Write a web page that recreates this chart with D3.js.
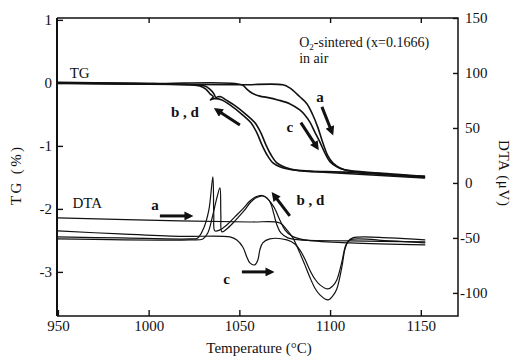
<!DOCTYPE html>
<html><head><meta charset="utf-8">
<script src="https://cdn.jsdelivr.net/npm/d3@7"></script>
<style>
body{margin:0;background:#fff;}
svg{display:block;}
svg text{font-family:"Liberation Serif","Times New Roman",Times,"DejaVu Serif",serif !important;fill:#111;}
</style>
</head><body>
<svg id="chart" width="515" height="357"></svg>
<script>
// ---------- data ----------
const xTicks = [950, 1000, 1050, 1100, 1150];
const tgTicks = [1, 0, -1, -2, -3];
const dtaTicks = [150, 100, 50, 0, -50, -100];

// TG curves: [temperature °C, TG %]
const tgA = [[950,0.00],[1000,-0.02],[1050,-0.03],[1074,-0.03],[1077.8,-0.08],[1083.3,-0.22],[1087.2,-0.33],[1090.5,-0.51],[1093.3,-0.71],[1096,-0.95],[1098.8,-1.16],[1101.5,-1.27],[1105.4,-1.35],[1110.9,-1.40],[1127.4,-1.44],[1152,-1.49]];
const tgC = [[950,0.01],[1000,-0.01],[1051.4,-0.03],[1054.1,-0.10],[1056.9,-0.16],[1061.3,-0.21],[1065.2,-0.23],[1071.2,-0.27],[1077.7,-0.33],[1083.3,-0.43],[1086.1,-0.51],[1088.8,-0.62],[1091.6,-0.78],[1094.4,-0.94],[1097.1,-1.11],[1099.9,-1.25],[1103.7,-1.33],[1108.1,-1.38],[1127,-1.43],[1152,-1.48]];
const tgB = [[1152,-1.50],[1110.9,-1.42],[1088.8,-1.40],[1079.5,-1.38],[1072.3,-1.33],[1068.5,-1.27],[1065.2,-1.14],[1062.4,-0.98],[1059.6,-0.79],[1056.3,-0.63],[1051.9,-0.51],[1044.8,-0.35],[1040.4,-0.27],[1036,-0.25],[1034,-0.27],[1035.6,-0.22],[1033.7,-0.17],[1031.5,-0.10],[1028.2,-0.05],[1022.7,-0.03],[1000,-0.01],[950,0.00]];
const tgD = [[1152,-1.51],[1091.6,-1.41],[1082.2,-1.39],[1075.1,-1.34],[1070.7,-1.27],[1067.4,-1.14],[1064.6,-0.98],[1061.8,-0.79],[1058.5,-0.63],[1054.1,-0.51],[1047,-0.35],[1042.6,-0.27],[1039.8,-0.22],[1038.2,-0.22],[1037,-0.23],[1035.9,-0.17],[1033.7,-0.10],[1031,-0.05],[1025.5,-0.03],[1000,-0.02],[950,-0.01]];

// DTA curves: [temperature °C, DTA µV]
const dtaA = [[950,-31.8],[1017.2,-34.5],[1055.8,-35.5],[1072.3,-36.4],[1076.2,-42.7],[1079.5,-50],[1083.3,-63.6],[1086.1,-74.5],[1088.8,-85.5],[1091.6,-95.5],[1094.4,-101.8],[1098.8,-106.4],[1101.5,-102.7],[1103.7,-96.4],[1106.5,-76.4],[1108.1,-60.9],[1109.8,-53.6],[1112.5,-50],[1132.9,-50],[1152.2,-51.8]];
const dtaC = [[950,-43.6],[984.2,-46.4],[1017.2,-48.6],[1044.8,-49.1],[1048.6,-51.8],[1051.9,-58.2],[1054.1,-67.3],[1055.8,-72.7],[1058.5,-74.5],[1060.2,-70],[1061.3,-60.9],[1062.9,-54.5],[1066.8,-50.9],[1076.2,-51.8],[1080.6,-55.5],[1083.3,-60.9],[1086.1,-69.1],[1088.8,-79.1],[1091.6,-87.3],[1094.4,-92.7],[1098.8,-96.4],[1101.5,-93.6],[1103.7,-88.2],[1106.5,-71.8],[1108.7,-56.4],[1110.9,-51.8],[1132.9,-52.7],[1152.2,-54.5]];
const dtaB = [[1152.2,-53.6],[1110.9,-52.7],[1083.3,-51.8],[1076.7,-50],[1072.9,-45.5],[1070.7,-38.2],[1069,-28.2],[1067.4,-19.1],[1065.2,-13.6],[1062.4,-11.4],[1059.1,-12.7],[1055.8,-16.4],[1051.9,-23.6],[1047.5,-30.9],[1043.1,-38.2],[1039.3,-42.7],[1036.5,-43.6],[1035.9,-29],[1035.4,5.5],[1033.2,-24.5],[1030.4,-40.9],[1027.1,-50],[1022.7,-50.9],[984.2,-50],[950,-49.1]];
const dtaD = [[1152.2,-56.4],[1110.9,-54.5],[1086.1,-51.8],[1078.9,-48.2],[1075.1,-42.7],[1072.3,-33.6],[1069,-21.8],[1065.6,-14.5],[1062.9,-11.8],[1059.6,-13.2],[1056.3,-17.3],[1052.5,-25.5],[1048.1,-33.6],[1043.7,-40.9],[1040.4,-44.5],[1039.8,-29],[1039.3,-4.5],[1037.6,-13.6],[1035.4,-29],[1032.6,-45.5],[1029.9,-50.9],[1022.7,-51.8],[950,-50.9]];

// annotation arrows (data coords): [T1, v1, T2, v2, axis]
const arrows = [
  [1095.5,-0.38,1101,-0.78,"tg"],
  [1083.9,-0.63,1092.7,-1.02,"tg"],
  [1050.3,-0.67,1037.6,-0.43,"tg"],
  [1006.2,-30,1022.7,-30,"dta"],
  [1051.4,-80.9,1067.4,-80.9,"dta"],
  [1077.8,-30,1069,-10.9,"dta"]
];
// annotation labels: [text, T, value, axis, anchor]
const labels = [
  ["TG",956.5,0.07,"tg","start"],
  ["DTA",958,-23,"dta","start"],
  ["a",1094.4,-0.30,"tg","middle"],
  ["c",1077.8,-0.78,"tg","middle"],
  ["b , d",1012.3,-0.54,"tg","start"],
  ["a",1003.5,-24.5,"dta","middle"],
  ["c",1043,-92,"dta","middle"],
  ["b , d",1081.5,-20,"dta","start"]
];

const SERIF = '"Liberation Serif","Times New Roman",Times,"DejaVu Serif",serif';

// ---------- scales ----------
const svg = d3.select("#chart").style("font-family", SERIF);
const x = d3.scaleLinear().domain([949.5, 1170.5]).range([57, 458]);
const yL = d3.scaleLinear().domain([-3.70, 1.03]).range([316, 18]);
const yR = d3.scaleLinear().domain([-121, 150]).range([316, 18]);

const FONT = 15;

// ---------- axes ----------
const gL = svg.append("g").attr("transform","translate(57,0)")
  .call(d3.axisLeft(yL).tickValues(tgTicks).tickSizeInner(-6).tickSizeOuter(0).tickPadding(5).tickFormat(d => d < 0 ? "-" + Math.abs(d) : String(d)));
const gB = svg.append("g").attr("transform","translate(0,316)")
  .call(d3.axisBottom(x).tickValues(xTicks).tickSizeInner(-6).tickSizeOuter(0).tickPadding(4).tickFormat(d3.format("d")));
const gT = svg.append("g").attr("transform","translate(0,18)")
  .call(d3.axisTop(x).tickValues(xTicks.slice(1)).tickSizeInner(-5).tickSizeOuter(0).tickFormat(""));
const gR = svg.append("g").attr("transform","translate(458,0)")
  .call(d3.axisRight(yR).tickValues(dtaTicks).tickSizeInner(-5).tickSizeOuter(0).tickPadding(7).tickFormat(d => d < 0 ? "-" + Math.abs(d) : String(d)));
gR.selectAll(".tick text").attr("x", d => d < 0 ? 2 : 7);
[gL,gB,gT,gR].forEach(g => {
  g.attr("font-family", SERIF).attr("font-size", FONT);
  g.select(".domain").remove();
  g.selectAll(".tick line").attr("stroke","#111").attr("stroke-width",1.4);
  g.selectAll(".tick text").attr("fill","#111");
});

// frame
svg.append("path").attr("fill","none").attr("stroke","#111").attr("stroke-width",1.5)
  .attr("d", `M${x.range()[0]},${yL.range()[1]}H${x.range()[1]}V${yL.range()[0]}H${x.range()[0]}`);
svg.append("line").attr("x1",x.range()[0]).attr("x2",x.range()[0]).attr("y1",yL.range()[1]).attr("y2",yL.range()[0])
  .attr("stroke","#111").attr("stroke-width",2);

// axis titles
svg.append("text").attr("transform","translate(21,176) rotate(-90)").attr("text-anchor","middle")
  .attr("font-size",15).attr("textLength",58).attr("lengthAdjust","spacing").text("TG (%)");
svg.append("text").attr("transform","translate(499,173) rotate(90)").attr("text-anchor","middle")
  .attr("font-size",15).attr("textLength",66).attr("lengthAdjust","spacing").text("DTA (μV)");
svg.append("text").attr("x",259).attr("y",353).attr("text-anchor","middle")
  .attr("font-size",15).text("Temperature (°C)");

// ---------- curves ----------
const lineTG = d3.line().x(d => x(d[0])).y(d => yL(d[1])).curve(d3.curveCatmullRom.alpha(0.5));
const lineDTA = d3.line().x(d => x(d[0])).y(d => yR(d[1])).curve(d3.curveCatmullRom.alpha(0.5));
const gc = svg.append("g").attr("fill","none").attr("stroke","#111").attr("stroke-linejoin","round").attr("stroke-linecap","round");
[tgA, tgC, tgB, tgD].forEach(s => gc.append("path").attr("d", lineTG(s)).attr("stroke-width",1.6));
[dtaA, dtaC, dtaB, dtaD].forEach(s => gc.append("path").attr("d", lineDTA(s)).attr("stroke-width",1.2));

// ---------- annotations ----------
const defs = svg.append("defs");
defs.append("marker").attr("id","ah").attr("viewBox","0 0 10 10").attr("refX",6).attr("refY",5)
  .attr("markerWidth",11).attr("markerHeight",9).attr("markerUnits","userSpaceOnUse").attr("orient","auto")
  .append("path").attr("d","M0,0L10,5L0,10z").attr("fill","#111");
const yOf = (v, ax) => ax === "tg" ? yL(v) : yR(v);
svg.append("g").selectAll("line").data(arrows).join("line")
  .attr("x1", d => x(d[0])).attr("y1", d => yOf(d[1], d[4]))
  .attr("x2", d => x(d[2])).attr("y2", d => yOf(d[3], d[4]))
  .attr("stroke","#111").attr("stroke-width",3).attr("marker-end","url(#ah)");

svg.append("g").selectAll("text").data(labels).join("text")
  .attr("x", d => x(d[1])).attr("y", d => yOf(d[2], d[3]))
  .attr("text-anchor", d => d[4]).attr("font-size", 15).attr("font-weight", d => (d[0]==="TG"||d[0]==="DTA") ? "normal" : "bold")
  .text(d => d[0]);

// title
const t1 = svg.append("text").attr("x", x(1083)).attr("y", 47).attr("font-size", 14);
t1.append("tspan").text("O");
t1.append("tspan").attr("font-size",9).attr("dy",3).text("2");
t1.append("tspan").attr("dy",-3).text("-sintered (x=0.1666)");
svg.append("text").attr("x", x(1083)).attr("y", 63).attr("font-size", 14).text("in air");
</script>
</body></html>
